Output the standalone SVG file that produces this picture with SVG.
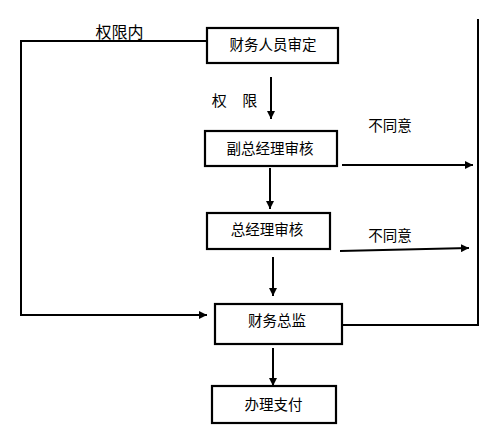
<svg xmlns="http://www.w3.org/2000/svg" width="497" height="435" viewBox="0 0 497 435">
<defs>
<marker id="ah" viewBox="0 0 10 10" refX="10" refY="5" markerWidth="4" markerHeight="4" orient="auto" markerUnits="strokeWidth">
<path d="M0,0 L10,5 L0,10 Z" fill="#000"/>
</marker>
<style>
.box{fill:#fff;stroke:#000;stroke-width:2.2}
.t{font-family:"Noto Sans CJK SC","Liberation Sans",sans-serif;font-size:14.5px;fill:#000;text-anchor:middle}
.l{fill:none;stroke:#000;stroke-width:2}
.a{fill:none;stroke:#000;stroke-width:2;marker-end:url(#ah)}
</style>
</defs>
<rect width="497" height="435" fill="#fff"/>
<g id="connectors">
<polyline class="l" points="207,41 21,41 21,315"/>
<line class="a" x1="20" y1="315" x2="207" y2="315"/>
<line class="a" x1="271" y1="77" x2="271" y2="119"/>
<line class="a" x1="270" y1="168" x2="270" y2="209"/>
<line class="a" x1="273" y1="257" x2="273" y2="296"/>
<line class="a" x1="273" y1="348" x2="273" y2="386"/>
<line class="a" x1="342" y1="165" x2="473" y2="165"/>
<line class="a" x1="340" y1="251" x2="469" y2="248"/>
<polyline class="l" points="478,19 478,325 342,325"/>
<text class="t" x="119.5" y="38" style="font-size:16px">权限内</text>
<text class="t" x="234.5" y="106" style="font-size:15px" word-spacing="12">权 限</text>
<text class="t" x="390" y="130.5">不同意</text>
<text class="t" x="390" y="240.5">不同意</text>
</g>
<g id="n1"><rect class="box" x="207" y="28" width="131" height="35"/><text class="t" x="273" y="50">财务人员审定</text></g>
<g id="n2"><rect class="box" x="205" y="131" width="132" height="35"/><text class="t" x="270" y="154">副总经理审核</text></g>
<g id="n3"><rect class="box" x="207" y="213" width="123" height="36"/><text class="t" x="267" y="235">总经理审核</text></g>
<g id="n4"><rect class="box" x="215" y="304" width="127" height="40"/><text class="t" x="277" y="325.5">财务总监</text></g>
<g id="n5"><rect class="box" x="212" y="386" width="124" height="37"/><text class="t" x="273.5" y="409.5">办理支付</text></g>
</svg>
